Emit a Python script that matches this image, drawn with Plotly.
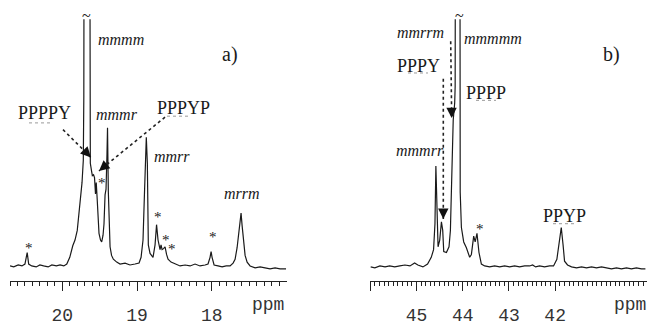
import numpy as np
import plotly.graph_objects as go

# ---- data: panel a) (methyl region) ----
ppm_a = [20.70, 20.65, 20.59, 20.54, 20.50, 20.47, 20.45, 20.41, 20.35, 20.30, 20.25, 20.19,
         20.14, 20.08, 20.03, 19.98, 19.94, 19.90, 19.86, 19.83, 19.80, 19.78, 19.756, 19.736,
         19.719, 19.712, 19.710, 19.669, 19.630, 19.628, 19.625, 19.609, 19.598, 19.582, 19.569,
         19.556, 19.546, 19.535, 19.526, 19.509, 19.489, 19.473, 19.455, 19.442, 19.428, 19.415,
         19.402, 19.395, 19.384, 19.375, 19.361, 19.341, 19.317, 19.272, 19.227, 19.160, 19.094,
         19.027, 18.973, 18.946, 18.920, 18.900, 18.886, 18.876, 18.862, 18.849, 18.826, 18.803,
         18.786, 18.759, 18.739, 18.719, 18.692, 18.679, 18.665, 18.645, 18.625, 18.605, 18.585,
         18.545, 18.491, 18.424, 18.357, 18.290, 18.224, 18.157, 18.090, 18.050, 18.023, 18.009,
         17.996, 17.969, 17.916, 17.862, 17.808, 17.755, 17.715, 17.688, 17.661, 17.641, 17.621,
         17.608, 17.594, 17.574, 17.554, 17.527, 17.487, 17.420, 17.353, 17.287, 17.220, 17.153,
         17.086, 17.006]
int_a = [3, 2, 4, 3, 5, 17, 5, 3, 2, 4, 3, 2,
         4, 3, 4, 3, 5, 12, 24, 30, 40, 55, 70, 90,
         113, 180, 300, 400, 300, 180, 110, 102, 97, 98, 95,
         78, 90, 75, 60, 37, 30, 28, 35, 47, 77, 83,
         120, 147, 80, 45, 23, 14, 10, 7, 5, 6, 4,
         5, 6, 12, 30, 80, 120, 137, 110, 25, 16, 13,
         12, 25, 46, 30, 20, 25, 20, 21, 23, 15, 10,
         7, 5, 3, 4, 3, 5, 3, 4, 5, 12, 18,
         12, 4, 3, 2, 3, 3, 6, 10, 22, 35, 50,
         58, 45, 25, 14, 7, 3, 1, 2, 1, 0, 1,
         0, 0]

# ---- data: panel b) (methylene region) ----
ppm_b = [45.99, 45.90, 45.79, 45.68, 45.58, 45.47, 45.36, 45.25, 45.14, 45.04, 44.97, 44.86,
         44.76, 44.68, 44.63, 44.60, 44.58, 44.555, 44.533, 44.497, 44.46, 44.432, 44.41,
         44.352, 44.296, 44.266, 44.244, 44.222, 44.205, 44.173, 44.163, 44.160, 44.108,
         44.058, 44.054, 44.028, 44.000, 43.978, 43.92, 43.886, 43.849, 43.812, 43.762,
         43.73, 43.691, 43.648, 43.596, 43.525, 43.417, 43.309, 43.20, 43.093, 42.985, 42.877,
         42.77, 42.66, 42.553, 42.488, 42.423, 42.337, 42.229, 42.121, 42.035, 41.963, 41.916,
         41.868, 41.829, 41.797, 41.732, 41.646, 41.538, 41.43, 41.322, 41.214, 41.106, 40.998,
         40.89, 40.782, 40.674, 40.566, 40.458, 40.35, 40.242, 40.134, 40.048]
int_b = [2, 1, 3, 2, 3, 2, 3, 4, 3, 6, 4, 2,
         5, 12, 20, 47, 107, 63, 23, 30, 49, 40, 18,
         17, 23, 40, 80, 130, 155, 173, 190, 300, 400,
         300, 80, 43, 32, 28, 22, 18, 12, 15, 34,
         28, 37, 17, 5, 3, 2, 3, 2, 3, 2, 3,
         2, 3, 3, 4, 2, 3, 2, 3, 3, 10, 25,
         43, 25, 8, 4, 2, 1, 2, 1, 2, 1, 2,
         1, 0, 1, 0, 1, 0, 1, 0, 0]

ticks_a = [20, 19, 18]
ticklabels_a = ["20", "19", "18"]
ticks_b = [46, 45, 44, 43, 42, 41]
ticklabels_b = ["", "45", "44", "43", "42", ""]

W, H = 649, 326
def px(x):
    return x / W
def py(y):
    return 1 - y / H

fig = go.Figure()
line = dict(color="#1a1a1a", width=1.2)
fig.add_trace(go.Scatter(x=ppm_a, y=int_a, mode="lines", line=line, xaxis="x", yaxis="y",
                         hoverinfo="skip", showlegend=False))
fig.add_trace(go.Scatter(x=ppm_b, y=int_b, mode="lines", line=line, xaxis="x2", yaxis="y2",
                         hoverinfo="skip", showlegend=False))

tickfont = dict(family="Liberation Mono", size=18, color="#333")
common_x = dict(showline=True, linecolor="#222", linewidth=1.2, ticks="outside", ticklen=9,
                tickwidth=1.2, tickcolor="#222", showgrid=False, zeroline=False,
                tickfont=tickfont, ticklabelstandoff=8, fixedrange=True)
minor_a = dict(tickmode="array", tickvals=list(np.round(np.arange(17.1, 20.71, 0.1), 2)),
               ticklen=4, tickwidth=1, tickcolor="#222", ticks="outside", showgrid=False)
minor_b = dict(tickmode="array", tickvals=list(np.round(np.arange(40.1, 46.0, 0.1), 2)),
               ticklen=4, tickwidth=1, tickcolor="#222", ticks="outside", showgrid=False)

ydom = [1 - 293 / H, 1 - 20 / H]
fig.update_layout(
    width=W, height=H, margin=dict(l=0, r=0, t=0, b=0),
    paper_bgcolor="white", plot_bgcolor="white",
    xaxis=dict(domain=[px(10), px(286.5)], range=[20.70, 17.0], tickmode="array",
               tickvals=ticks_a, ticktext=ticklabels_a, minor=minor_a, anchor="y", **common_x),
    yaxis=dict(domain=ydom, range=[-13, 260], visible=False, fixedrange=True),
    xaxis2=dict(domain=[px(370), px(646.7)], range=[46.005, 40.02], tickmode="array",
                tickvals=ticks_b, ticktext=ticklabels_b, minor=minor_b, anchor="y2", **common_x),
    yaxis2=dict(domain=ydom, range=[-13, 260], visible=False, fixedrange=True),
)

serif = "Liberation Serif"
def txt(x, y, s, size=17, italic=False, family=serif):
    fig.add_annotation(x=px(x), y=py(y), xref="paper", yref="paper", text=s, showarrow=False,
                       font=dict(family=family, size=size, color="#1a1a1a",
                                 style="italic" if italic else "normal"),
                       xanchor="center", yanchor="middle")

# panel a labels
txt(86, 16, "~", 16)
txt(120.5, 41, "mmmm", 16, True)
txt(230.5, 57, "a)", 20)
txt(44, 118, "PPPPY", 18)
txt(117.5, 119, "mmmr", 16, True)
txt(183.5, 112, "PPPYP", 18)
txt(172, 163, "mmrr", 16, True)
txt(241.7, 202, "mrrm", 16, True)
for (sx, sy) in [(29.3, 258), (101.5, 191), (158.3, 226), (165.5, 250), (171.5, 259), (213.3, 247)]:
    txt(sx, sy, "*", 15)

# panel b labels
txt(459.3, 16, "~", 16)
txt(420, 33.5, "mmrrm", 16, True)
txt(493, 40, "mmmmm", 16, True)
txt(611, 57, "b)", 20)
txt(418.7, 68.5, "PPPY", 18)
txt(486, 97, "PPPP", 18)
txt(420, 157, "mmmrr", 16, True)
txt(480, 238, "*", 15)
txt(564.7, 225, "PPYP", 18)

# dotted underlines
for (x0, x1, y) in [(29, 53, 128), (167, 190, 121), (408, 428, 76), (476, 496, 104.5), (553, 577, 233)]:
    fig.add_shape(type="line", xref="paper", yref="paper", x0=px(x0), x1=px(x1), y0=py(y), y1=py(y),
                  line=dict(color="#999", width=1, dash="dot"))

# dotted arrows
def arrow(x0, y0, x1, y1):
    fig.add_shape(type="line", xref="paper", yref="paper", x0=px(x0), y0=py(y0), x1=px(x1), y1=py(y1),
                  line=dict(color="#222", width=1.6, dash="dot"))
    d = np.hypot(x1 - x0, y1 - y0)
    ux, uy = (x1 - x0) / d, (y1 - y0) / d
    fig.add_annotation(x=px(x1), y=py(y1), xref="paper", yref="paper", text="", showarrow=True,
                       ax=-ux * 9, ay=-uy * 9, arrowhead=2, arrowsize=1.3, arrowwidth=1.6,
                       arrowcolor="#111")

arrow(63, 135, 91, 164)
arrow(165, 122, 99, 178)
arrow(450.7, 43, 451.7, 123)
arrow(443.3, 82, 443.3, 228)

# ppm labels
fig.add_annotation(x=px(268), y=py(318), xref="paper", yref="paper", text="ppm", showarrow=False,
                   font=tickfont, xanchor="center", yanchor="middle")
fig.add_annotation(x=px(630), y=py(318), xref="paper", yref="paper", text="ppm", showarrow=False,
                   font=tickfont, xanchor="center", yanchor="middle")

fig.write_html("out.html")
